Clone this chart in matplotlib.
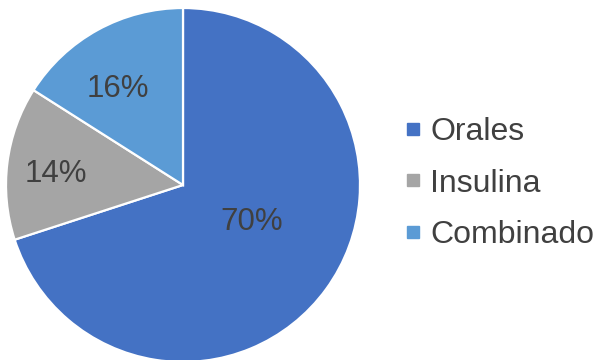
import matplotlib
matplotlib.use("Agg")
import matplotlib.pyplot as plt
from matplotlib.lines import Line2D

categories = ["Orales", "Insulina", "Combinado"]
shares = [70, 14, 16]
colors = ["#4472C4", "#A5A5A5", "#5B9BD5"]

# label anchor points inside each slice (unit-radius coordinates)
label_xy = [(0.39, -0.21), (-0.72, 0.06), (-0.37, 0.54)]

plt.rcParams["font.family"] = ["Liberation Sans", "DejaVu Sans"]
text_color = "#404040"

fig = plt.figure(figsize=(5.95, 3.6), dpi=100)
ax = fig.add_axes([6 / 595, -2 / 360, 354 / 595, 354 / 360])

wedges, _ = ax.pie(
    shares,
    colors=colors,
    startangle=90,
    counterclock=False,
    radius=1.0,
    wedgeprops=dict(edgecolor="white", linewidth=1.6),
)
for val, (x, y) in zip(shares, label_xy):
    ax.text(x, y, f"{val}%", ha="center", va="center",
            fontsize=22.5, color=text_color)

ax.set_xlim(-1.0, 1.0)
ax.set_ylim(-1.0, 1.0)
ax.set_aspect("equal")
ax.axis("off")

handles = [
    Line2D([], [], marker="s", linestyle="none", markersize=8.5,
           markerfacecolor=c, markeredgecolor=c)
    for c in colors
]
leg = fig.legend(
    handles, categories,
    loc="center left",
    bbox_to_anchor=(403 / 595, 0.49),
    frameon=False,
    fontsize=23,
    handlelength=0.6,
    handletextpad=0.25,
    labelspacing=0.68,
    borderaxespad=0,
    borderpad=0,
)
for t in leg.get_texts():
    t.set_color(text_color)

fig.savefig("out.png", dpi=100)
